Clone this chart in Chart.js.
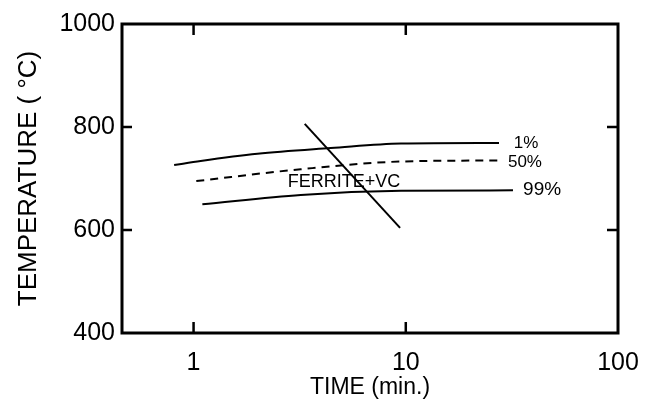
<!DOCTYPE html>
<html>
<head>
<meta charset="utf-8">
<script src="https://cdn.jsdelivr.net/npm/chart.js@4/dist/chart.umd.min.js"></script>
<style>
    html, body { margin: 0; padding: 0; background: #fff; }
    #wrap { width: 645px; height: 399px; }
</style>
</head>
<body>
<div id="wrap"><canvas id="ttChart"></canvas></div>
<script>
'use strict'

// Axis ranges and tick labels.
const timeMin = 0.46;
const timeMax = 100;
const timeTicks = [1, 10, 100];
const tempTicks = [400, 600, 800, 1000];

// 1% transformed.
const time1 = [0.81, 1.08, 2.0, 4.43, 9.5, 27.5];
const temp1 = [726, 734, 748, 759, 768, 769];

// 50% transformed.
const time50 = [1.03, 3.2, 9.5, 27];
const temp50 = [695, 718, 733, 735];

// 99% transformed.
const time99 = [1.10, 3.2, 9.5, 32];
const temp99 = [650, 668, 676, 677];

// Line crossing the curves.
const timeCross = [3.34, 9.4];
const tempCross = [806, 604];

// Curve labels.
const labelTexts = ['1%', '50%', '99%', 'FERRITE+VC'];
const labelTimes = [32.3, 30.3, 35.7, 2.78];
const labelTemps = [769, 732, 678, 693];
const labelSizes = [17, 17, 19, 18];

function toPoints(xs, ys) {
    return xs.map((x, i) => ({x: x, y: ys[i]}));
}

/**
 * Draws the frame, the inward ticks and the curve labels.
 */
const framePlugin = {
    id: 'frame',
    afterDatasetsDraw(chart) {
        const ctx = chart.ctx;
        const area = chart.chartArea;
        const xs = chart.scales.x;
        const ys = chart.scales.y;

        ctx.save();
        ctx.strokeStyle = '#000';
        ctx.lineWidth = 3;
        ctx.strokeRect(area.left, area.top, area.right - area.left, area.bottom - area.top);

        // Inward ticks.
        ctx.lineWidth = 2.5;
        ctx.beginPath();
        [1, 10].forEach((v) => {
            let px = xs.getPixelForValue(v);
            ctx.moveTo(px, area.top);
            ctx.lineTo(px, area.top + 11);
            ctx.moveTo(px, area.bottom);
            ctx.lineTo(px, area.bottom - 11);
        });
        [600, 800].forEach((v) => {
            let py = ys.getPixelForValue(v);
            ctx.moveTo(area.left, py);
            ctx.lineTo(area.left + 10, py);
            ctx.moveTo(area.right, py);
            ctx.lineTo(area.right - 11, py);
        });
        ctx.stroke();

        // Labels.
        ctx.fillStyle = '#000';
        ctx.textAlign = 'left';
        ctx.textBaseline = 'middle';
        for (let i = 0; i < labelTexts.length; i++) {
            ctx.font = labelSizes[i] + 'px "Liberation Sans"';
            ctx.fillText(labelTexts[i], xs.getPixelForValue(labelTimes[i]), ys.getPixelForValue(labelTemps[i]));
        }
        ctx.restore();
    }
};

const lineStyle = {
    showLine: true,
    borderColor: '#000',
    borderWidth: 2,
    pointRadius: 0,
    cubicInterpolationMode: 'monotone',
    fill: false
};

const ctx = document.getElementById('ttChart').getContext('2d');
const ttChart = new Chart(ctx, {
    type: 'scatter',
    data: {
        datasets: [
            Object.assign({label: '1%', data: toPoints(time1, temp1)}, lineStyle),
            Object.assign({label: '50%', data: toPoints(time50, temp50), borderDash: [8, 6]}, lineStyle),
            Object.assign({label: '99%', data: toPoints(time99, temp99)}, lineStyle),
            Object.assign({label: 'cross', data: toPoints(timeCross, tempCross)}, lineStyle)
        ]
    },
    options: {
        responsive: true,
        maintainAspectRatio: false,
        animation: false,
        layout: {
            padding: {top: 24, right: 27, left: 0, bottom: 0}
        },
        plugins: {
            legend: {display: false},
            tooltip: {enabled: false}
        },
        scales: {
            x: {
                type: 'logarithmic',
                min: timeMin,
                max: timeMax,
                afterBuildTicks: (scale) => {
                    scale.ticks = timeTicks.map((v) => ({value: v}));
                },
                afterFit: (scale) => {
                    scale.height = 66;
                    scale.paddingLeft = 0;
                    scale.paddingRight = 0;
                },
                grid: {display: false, drawTicks: false},
                border: {display: false},
                ticks: {
                    color: '#000',
                    padding: 15,
                    maxRotation: 0,
                    autoSkip: false,
                    font: {family: 'Liberation Sans', size: 25},
                    callback: (v) => String(v)
                },
                title: {
                    display: true,
                    text: 'TIME (min.)',
                    color: '#000',
                    padding: 0,
                    font: {family: 'Liberation Sans', size: 23, lineHeight: 1}
                }
            },
            y: {
                min: tempTicks[0],
                max: tempTicks[tempTicks.length - 1],
                afterBuildTicks: (scale) => {
                    scale.ticks = tempTicks.map((v) => ({value: v}));
                },
                afterFit: (scale) => {
                    scale.width = 122;
                    scale.paddingTop = 0;
                    scale.paddingBottom = 0;
                },
                grid: {display: false, drawTicks: false},
                border: {display: false},
                ticks: {
                    color: '#000',
                    padding: 7,
                    font: {family: 'Liberation Sans', size: 25},
                    callback: (v) => String(v)
                },
                title: {
                    display: true,
                    text: 'TEMPERATURE ( °C)',
                    color: '#000',
                    padding: {top: 16, bottom: 0},
                    font: {family: 'Liberation Sans', size: 26, lineHeight: 1}
                }
            }
        }
    },
    plugins: [framePlugin]
});
</script>
</body>
</html>
